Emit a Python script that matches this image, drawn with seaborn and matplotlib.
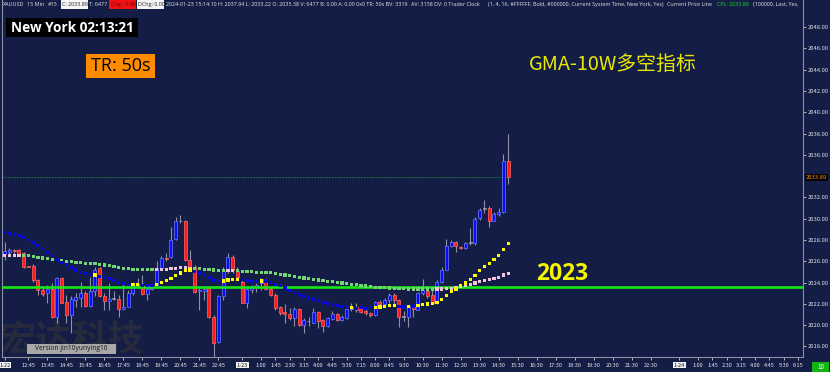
import numpy as np
import pandas as pd
import seaborn as sns
import matplotlib
matplotlib.use("Agg")
import matplotlib.pyplot as plt
from matplotlib.patches import Rectangle

# 15 min XAUUSD candles
opens = [2026.7, 2026.9, 2027.1, 2027.1, 2026.8, 2025.55, 2025.6, 2024.25, 2023.3, 2023.0,
         2023.4, 2020.8, 2024.4, 2022.2, 2021.0, 2022.4, 2022.55, 2023.0, 2021.8, 2023.25,
         2025.35, 2022.75, 2022.3, 2022.5, 2022.45, 2021.5, 2021.75, 2023.0, 2023.8, 2023.7,
         2022.9, 2023.4, 2023.8, 2025.35, 2026.3, 2026.4, 2028.05, 2029.75, 2029.75, 2026.15,
         2025.5, 2023.2, 2023.25, 2023.5, 2020.8, 2018.4, 2022.7, 2025.05, 2026.4, 2025.1,
         2024.1, 2022.1, 2023.3, 2023.55, 2024.0, 2024.3, 2023.4, 2022.85, 2021.7, 2021.2,
         2021.05, 2020.65, 2021.5, 2020.05, 2020.35, 2020.25, 2021.2, 2020.45, 2019.9, 2020.55,
         2021.05, 2020.45, 2020.65, 2021.5, 2021.7, 2021.5, 2021.3, 2021.15, 2021.0, 2022.15,
         2022.0, 2022.35, 2022.85, 2022.4, 2020.8, 2020.8, 2021.75, 2021.45, 2023.0, 2023.25,
         2022.85, 2022.05, 2024.1, 2025.2, 2027.45, 2027.85, 2027.3, 2027.25, 2027.7, 2027.7,
         2030.05, 2030.9, 2031.0, 2029.8, 2030.45, 2030.6, 2035.38]
highs = [2027.85, 2027.25, 2027.2, 2027.2, 2026.9, 2025.6, 2025.7, 2024.3, 2023.5, 2023.8,
         2024.0, 2024.55, 2024.55, 2022.85, 2022.7, 2023.0, 2024.1, 2023.2, 2024.55, 2025.5,
         2025.5, 2023.0, 2023.95, 2023.2, 2022.85, 2023.95, 2023.3, 2024.1, 2024.4, 2024.7,
         2023.65, 2023.9, 2026.0, 2026.45, 2026.75, 2029.25, 2030.2, 2030.35, 2029.9, 2027.05,
         2025.65, 2023.5, 2023.5, 2023.6, 2021.0, 2022.85, 2025.5, 2026.75, 2026.6, 2025.5,
         2024.25, 2023.65, 2023.8, 2023.95, 2024.4, 2024.4, 2023.55, 2023.0, 2021.8, 2022.0,
         2021.6, 2021.7, 2021.6, 2020.65, 2020.8, 2021.6, 2021.3, 2020.55, 2020.8, 2021.3,
         2021.15, 2021.0, 2021.75, 2022.05, 2022.05, 2021.75, 2021.5, 2021.2, 2022.25, 2022.4,
         2022.55, 2023.0, 2023.0, 2022.45, 2021.3, 2021.9, 2021.9, 2023.15, 2024.3, 2023.4,
         2023.3, 2024.25, 2025.5, 2028.05, 2028.0, 2027.95, 2027.45, 2027.85, 2029.1, 2030.2,
         2031.05, 2031.8, 2031.15, 2030.65, 2031.05, 2036.1, 2037.94]
lows = [2026.1, 2026.45, 2026.6, 2026.45, 2025.35, 2025.45, 2024.1, 2022.85, 2022.7, 2022.05,
        2020.65, 2020.2, 2022.05, 2020.2, 2019.25, 2021.75, 2021.75, 2021.75, 2021.75, 2022.7,
        2022.6, 2021.45, 2021.45, 2022.4, 2020.8, 2021.45, 2021.7, 2022.85, 2023.6, 2022.85,
        2022.4, 2023.3, 2023.65, 2025.2, 2026.0, 2026.3, 2028.0, 2029.55, 2026.0, 2025.2,
        2023.0, 2021.45, 2022.4, 2020.65, 2017.05, 2018.3, 2022.4, 2024.9, 2024.9, 2024.4,
        2022.05, 2021.6, 2023.0, 2023.15, 2023.3, 2023.3, 2022.7, 2021.45, 2020.95, 2020.25,
        2020.5, 2019.95, 2019.95, 2019.3, 2019.95, 2020.2, 2019.7, 2019.4, 2019.8, 2020.45,
        2020.35, 2020.35, 2020.55, 2021.3, 2021.25, 2021.15, 2021.0, 2020.8, 2020.9, 2021.9,
        2021.9, 2022.05, 2022.0, 2019.8, 2020.35, 2019.8, 2020.8, 2021.4, 2022.85, 2022.55,
        2022.0, 2022.0, 2024.0, 2025.15, 2027.3, 2026.9, 2027.15, 2027.15, 2027.55, 2027.55,
        2029.9, 2030.5, 2029.25, 2029.75, 2030.25, 2030.5, 2033.22]
closes = [2027.0, 2027.1, 2027.0, 2026.6, 2025.5, 2025.5, 2024.2, 2023.3, 2022.95, 2023.4,
          2020.8, 2024.4, 2022.1, 2021.0, 2022.45, 2022.6, 2023.0, 2021.8, 2023.25, 2025.2,
          2022.7, 2022.3, 2022.5, 2022.5, 2021.5, 2021.75, 2023.0, 2023.8, 2023.8, 2022.9,
          2023.4, 2023.7, 2025.35, 2026.3, 2026.2, 2028.0, 2029.75, 2029.75, 2026.15, 2025.5,
          2023.15, 2023.3, 2023.4, 2020.8, 2018.3, 2022.7, 2025.05, 2026.4, 2025.15, 2024.55,
          2022.1, 2023.4, 2023.5, 2023.8, 2024.3, 2023.4, 2022.85, 2021.6, 2021.15, 2021.05,
          2020.65, 2021.5, 2020.05, 2020.45, 2020.35, 2021.2, 2020.35, 2019.9, 2020.65, 2021.05,
          2020.45, 2020.75, 2021.55, 2021.75, 2021.4, 2021.2, 2021.15, 2021.0, 2022.15, 2022.0,
          2022.4, 2022.85, 2022.35, 2020.75, 2020.8, 2021.8, 2021.5, 2023.0, 2023.3, 2022.75,
          2022.05, 2024.1, 2025.2, 2027.45, 2027.85, 2027.4, 2027.25, 2027.75, 2027.7, 2029.95,
          2030.8, 2030.9, 2029.8, 2030.45, 2030.65, 2035.45, 2033.89]

# GMA-10W dotted lines (fast: blue/yellow, slow: green/pink)
fast_line = [2028.73, 2028.60, 2028.48, 2028.39, 2028.20, 2027.98, 2027.73, 2027.45, 2027.17, 2026.85,
             2026.51, 2026.20, 2025.89, 2025.64, 2025.39, 2025.17, 2024.98, 2024.85, 2024.76, 2024.70,
             2024.60, 2024.48, 2024.35, 2024.20, 2024.04, 2023.92, 2023.82, 2023.79, 2023.79, 2023.76,
             2023.76, 2023.76, 2023.82, 2024.01, 2024.17, 2024.39, 2024.64, 2024.89, 2025.10, 2025.17,
             2025.07, 2024.89, 2024.67, 2024.45, 2024.23, 2024.14, 2024.14, 2024.23, 2024.29, 2024.32,
             2024.26, 2024.17, 2024.10, 2024.10, 2024.14, 2024.14, 2024.01, 2023.85, 2023.70, 2023.48,
             2023.26, 2023.07, 2022.85, 2022.70, 2022.54, 2022.45, 2022.32, 2022.13, 2022.01, 2021.89,
             2021.82, 2021.76, 2021.70, 2021.67, 2021.60, 2021.64, 2021.60, 2021.64, 2021.67, 2021.70,
             2021.76, 2021.82, 2021.82, 2021.76, 2021.70, 2021.76, 2021.79, 2021.82, 2021.95, 2021.98,
             2022.01, 2022.13, 2022.39, 2022.76, 2023.14, 2023.39, 2023.70, 2023.95, 2024.26, 2024.67,
             2025.10, 2025.51, 2025.82, 2026.14, 2026.51, 2027.14, 2027.64]
slow_line = [2026.57, 2026.57, 2026.57, 2026.57, 2026.54, 2026.51, 2026.45, 2026.39, 2026.32, 2026.26,
             2026.20, 2026.14, 2026.04, 2026.01, 2025.95, 2025.92, 2025.89, 2025.82, 2025.79, 2025.76,
             2025.70, 2025.64, 2025.57, 2025.51, 2025.45, 2025.35, 2025.29, 2025.26, 2025.23, 2025.23,
             2025.23, 2025.20, 2025.20, 2025.20, 2025.26, 2025.29, 2025.35, 2025.39, 2025.39, 2025.35,
             2025.35, 2025.32, 2025.26, 2025.23, 2025.17, 2025.14, 2025.10, 2025.10, 2025.10, 2025.10,
             2025.04, 2025.04, 2025.01, 2024.98, 2024.98, 2024.95, 2024.92, 2024.85, 2024.79, 2024.70,
             2024.64, 2024.57, 2024.48, 2024.42, 2024.35, 2024.29, 2024.23, 2024.17, 2024.10, 2024.07,
             2024.01, 2023.95, 2023.89, 2023.85, 2023.79, 2023.73, 2023.67, 2023.64, 2023.57, 2023.54,
             2023.51, 2023.48, 2023.45, 2023.45, 2023.42, 2023.39, 2023.39, 2023.39, 2023.39, 2023.39,
             2023.39, 2023.39, 2023.39, 2023.42, 2023.45, 2023.51, 2023.60, 2023.73, 2023.82, 2023.95,
             2024.07, 2024.17, 2024.26, 2024.39, 2024.51, 2024.70, 2024.85]

level_line = 2023.56
level_text = "2023"
last_price = 2033.89

price_ticks = [2018, 2020, 2022, 2024, 2026, 2028, 2030, 2032, 2036, 2038, 2040, 2042, 2044, 2046, 2048]
time_pos = [0, 5, 9, 13, 17, 21, 25, 29, 33, 37, 41, 45, 50, 54, 57, 60, 63, 66, 69, 72, 75, 78, 81, 84,
            88, 92, 96, 100, 104, 108, 112, 116, 120, 124, 128, 132, 136, 142, 146, 149, 152, 155, 158,
            161, 164, 167]
time_labels = ["1-22", "12:45", "13:45", "14:45", "15:45", "16:45", "17:45", "18:45", "19:45", "20:45",
               "21:45", "22:45", "1-23", "1:00", "1:45", "2:30", "3:15", "4:00", "4:45", "5:30", "7:15",
               "8:00", "8:45", "9:30", "10:30", "11:30", "12:30", "13:30", "14:30", "15:30", "16:30",
               "17:30", "18:30", "19:30", "20:30", "21:30", "22:30", "1-24", "1:00", "1:45", "2:30",
               "3:15", "4:00", "4:45", "5:30", "6:15"]

BG = "#131d45"
W, H = 830, 372

sns.set_theme(style="dark", rc={"axes.facecolor": BG, "figure.facecolor": BG})
plt.rcParams["font.family"] = ["Noto Sans CJK SC", "DejaVu Sans"]

fig = plt.figure(figsize=(W / 100, H / 100), dpi=100)
ax = fig.add_axes([2 / W, 15 / H, 801 / W, 357 / H])
ax.set_facecolor(BG)


def fx(px):
    return px / W


def fy(py):
    return 1 - py / H


def box(x0, y0, x1, y1, color, z=3):
    fig.add_artist(Rectangle((fx(x0), fy(y1)), (x1 - x0) / W, (y1 - y0) / H,
                             transform=fig.transFigure, facecolor=color, edgecolor="none", zorder=z))


df = pd.DataFrame({"bar": np.arange(len(opens)), "open": opens, "high": highs,
                   "low": lows, "close": closes, "fast": fast_line, "slow": slow_line})

# wicks and bodies
ax.vlines(df["bar"], df["low"], df["high"], color="#8e91a3", linewidth=0.8, zorder=2)
for _, r in df.iterrows():
    if r["close"] > r["open"]:
        fc, ec = "#0a0aff", "#6f7cff"
    elif r["close"] < r["open"]:
        fc, ec = "#ff1a1a", "#ff6a6a"
    else:
        fc, ec = "#9a9aaa", "#9a9aaa"
    lo = min(r["open"], r["close"])
    h = max(abs(r["close"] - r["open"]), 0.07)
    ax.bar(r["bar"], h, bottom=lo, width=0.62, color=fc, edgecolor=ec, linewidth=0.5, zorder=3)

# indicator dots
fast_df = pd.DataFrame({"bar": df["bar"], "value": df["fast"],
                        "state": np.where(df["close"] > df["fast"], "up", "down")})
slow_df = pd.DataFrame({"bar": df["bar"], "value": df["slow"],
                        "state": np.where(df["close"] > df["slow"], "up", "down")})
sns.scatterplot(data=slow_df, x="bar", y="value", hue="state", palette={"up": "#f2c4dc", "down": "#72d672"},
                marker="s", s=5.5, linewidth=0, legend=False, ax=ax, zorder=5)
sns.scatterplot(data=fast_df, x="bar", y="value", hue="state", palette={"up": "#ffff00", "down": "#0808d8"},
                marker="s", s=5.5, linewidth=0, legend=False, ax=ax, zorder=5)

# level and last price lines
ax.axhline(level_line, color="#19e619", linewidth=1.9, zorder=4)
ax.hlines(last_price, -0.6, len(opens) - 0.6, color="#22843a", linewidth=0.7,
          linestyle=(0, (1.5, 1.5)), zorder=1)

ax.set_xlim(-0.57, 168.06)
ax.set_ylim(2017.01, 2050.54)
ax.set_xlabel("")
ax.set_ylabel("")
ax.grid(False)

ax.yaxis.tick_right()
ax.set_yticks(price_ticks)
ax.set_yticklabels([f"{v:.2f}" for v in price_ticks])
ax.tick_params(axis="y", colors="#c9ccd6", labelsize=4.2, length=2, width=0.6, pad=1.2, right=True)
ax.set_xticks(time_pos)
ax.set_xticklabels(time_labels)
ax.tick_params(axis="x", colors="#c9ccd6", labelsize=4.0, length=2, width=0.6, pad=2, bottom=True)
for lbl in ax.get_xticklabels():
    lbl.set_color("#e8eaf0")
    if "-" in lbl.get_text():
        lbl.set_color("#1a1a1a")
        lbl.set_bbox(dict(facecolor="#f2f2f2", edgecolor="none", pad=0.6))
for lbl in ax.get_yticklabels():
    lbl.set_color("#e0e2ea")

ax.spines["top"].set_visible(False)
for side in ["left", "right", "bottom"]:
    ax.spines[side].set_color("#8c90a2")
    ax.spines[side].set_linewidth(0.8)

# last price tag on the scale
ax.text(1.004, last_price, f"{last_price:.2f}", transform=ax.get_yaxis_transform(), fontsize=4.2,
        color="#ff8c1a", va="center", ha="left",
        bbox=dict(facecolor="#050505", edgecolor="none", pad=0.6), zorder=6)

# overlays
ax.text(fx(562), fy(274), level_text, transform=fig.transFigure, fontsize=16.5, fontweight="bold",
        color="#f5f500", ha="center", va="center", family="Open Sans", zorder=6)
ax.text(fx(613), fy(64), "GMA-10W多空指标", transform=fig.transFigure, fontsize=14.3,
        color="#e8e800", ha="center", va="center", zorder=6)
ax.text(fx(0), fy(341), "宏达科技", transform=fig.transFigure, fontsize=26, fontweight="bold",
        color="#262a3c", ha="left", va="center", zorder=0.5, clip_on=True)

box(6, 18, 138, 37, "#000000")
fig.text(fx(72), fy(27.5), "New York 02:13:21", fontsize=9.8, fontweight="bold", color="white",
         ha="center", va="center", family="Open Sans", zorder=4)
box(86, 54, 155, 78, "#ff8c00")
fig.text(fx(120.5), fy(66), "TR: 50s", fontsize=13, color="#000000", ha="center", va="center",
         family="Open Sans", zorder=4)
box(27, 344, 116, 354, "#a8a8a8")
fig.text(fx(71.5), fy(349), "Version jin10yunying16", fontsize=4.8, color="#1a1a1a", ha="center",
         va="center", family="Open Sans", zorder=4)
box(812, 362, 829, 372, "#11b511")
fig.text(fx(820.5), fy(367), "10", fontsize=4.5, color="white", ha="center", va="center", zorder=4)

# header line
hs = dict(fontsize=3.9, va="center", ha="left", family="Open Sans", zorder=4)
hy = fy(4.5)
fig.text(fx(3), hy, "XAUUSD", color="#e6e6e6", **hs)
fig.text(fx(27), hy, "15 Min", color="#e6e6e6", **hs)
fig.text(fx(48), hy, "#15", color="#e6e6e6", **hs)
box(61, 0, 88, 9, "#f4f4f4")
fig.text(fx(62), hy, "C: 2033.89", color="#202020", **hs)
fig.text(fx(89), hy, "T: 6477", color="#e6e6e6", **hs)
box(109, 0, 136, 9, "#ee1111")
fig.text(fx(110.5), hy, "Chg: -1.46", color="#6a0000", **hs)
box(137, 0, 164, 9, "#f4f4f4")
fig.text(fx(138), hy, "DChg: 0.00", color="#202020", **hs)
fig.text(fx(166), hy, "2024-01-23 15:14:10 H: 2037.94 L: 2033.22 O: 2035.38 V: 6477 B: 0.00 "
         "A: 0.00 0x0 TR: 50s BV: 3319", color="#e6e6e6", **hs)
fig.text(fx(411), hy, "AV: 3158 DV: 0 Trader Clock", color="#e6e6e6", **hs)
fig.text(fx(488), hy, "(1, 4, 16, #FFFFFF, Bold, #000000, Current System Time, New York, Yes)",
         color="#e6e6e6", **hs)
fig.text(fx(667), hy, "Current Price Line", color="#e6e6e6", **hs)
fig.text(fx(717), hy, "CPL: 2033.89", color="#22dd22", **hs)
fig.text(fx(753), hy, "(100000, Last, Yes,", color="#e6e6e6", **hs)

fig.savefig("out.png", dpi=100, facecolor=BG)
